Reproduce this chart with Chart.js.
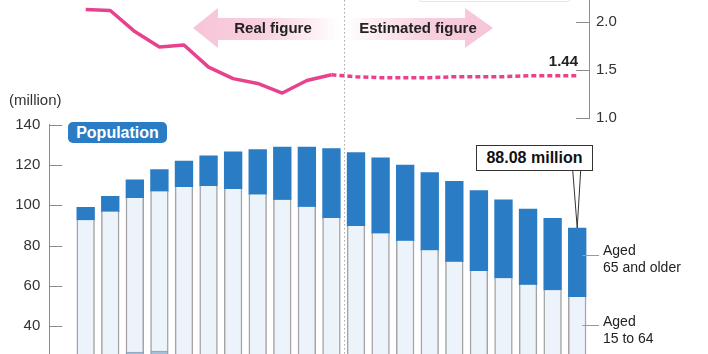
<!DOCTYPE html>
<html>
<head>
<meta charset="utf-8">
<script src="https://cdn.jsdelivr.net/npm/chart.js@4.4.1/dist/chart.umd.min.js"></script>
<style>
  body {
    margin: 0;
    width: 708px;
    height: 354px;
    overflow: hidden;
    position: relative;
    background: #fff;
    font-family: "Liberation Sans", Arial, sans-serif;
    color: #222;
  }
  canvas { position: absolute; left: 0; }
  #popChart { top: 0; }
  #rateChart { top: -30px; }
  .note { position: absolute; white-space: nowrap; }
  .arrow { position: absolute; top: 8px; height: 40px; }
  #realArrow {
    left: 193px; width: 147px;
    clip-path: polygon(0 20px, 25px 0, 25px 10px, 147px 10px, 147px 32px, 25px 32px, 25px 40px);
    background: linear-gradient(to right, #f6c4d8 0%, #f8cfdf 45%, rgba(255,255,255,0) 100%);
  }
  #estArrow {
    left: 345px; width: 148px;
    clip-path: polygon(0 10px, 120px 10px, 120px 0, 148px 20px, 120px 40px, 120px 32px, 0 32px);
    background: linear-gradient(to right, rgba(255,255,255,0) 0%, #f8cfdf 55%, #f6c4d8 100%);
  }
  .arrowText { font-weight: bold; font-size: 15px; line-height: 18px; top: 19px; color: #222; }
</style>
</head>
<body>
<canvas id="popChart" width="708" height="384"></canvas>
<canvas id="rateChart" width="708" height="170"></canvas>

<div class="note" style="left:417px; top:-25px; width:153px; height:25px; border:1px solid #e6e6e6; border-radius:5px;"></div>
<div class="arrow" id="realArrow"></div>
<div class="arrow" id="estArrow"></div>
<div class="note arrowText" style="left:233px; width:80px; text-align:center;">Real figure</div>
<div class="note arrowText" style="left:355px; width:126px; text-align:center;">Estimated figure</div>
<div class="note" style="left:530px; top:52px; width:48px; text-align:right; font-weight:bold; font-size:15px; line-height:18px;">1.44</div>
<div class="note" style="left:9px; top:91px; font-size:15px; line-height:18px; color:#333;">(million)</div>
<div class="note" style="left:68px; top:122px; width:99px; height:21px; background:#2a7dc4; border-radius:5px; color:#fff; font-weight:bold; font-size:16px; line-height:21px; text-align:center;">Population</div>
<div class="note" style="left:476px; top:145px; width:115px; height:24px; border:1px solid #333; background:#fff; font-weight:bold; font-size:16px; line-height:24px; text-align:center; color:#111;">88.08 million</div>
<div class="note" style="left:603px; top:242px; font-size:14px; line-height:16.5px;">Aged<br>65 and older</div>
<div class="note" style="left:603px; top:313px; font-size:14px; line-height:16.5px;">Aged<br>15 to 64</div>

<script>
// Japan population by age group (million), 1965-2015 real, 2020-2065 estimated
const years = [1965, 1970, 1975, 1980, 1985, 1990, 1995, 2000, 2005, 2010, 2015,
               2020, 2025, 2030, 2035, 2040, 2045, 2050, 2055, 2060, 2065];
const aged0to14 = [25.5, 24.8, 27.1, 27.6, 26.0, 22.5, 20.0, 18.5, 17.6, 16.8, 15.9,
                   15.1, 14.1, 13.2, 12.5, 11.9, 11.4, 10.8, 10.2, 9.5, 9.0];
const aged15to64 = [67.0, 72.0, 76.4, 79.2, 83.0, 87.0, 88.0, 86.8, 85.1, 82.4, 77.7,
                    74.6, 71.9, 69.2, 65.1, 60.1, 56.0, 53.0, 50.4, 48.3, 45.5];
const aged65plus = [6.4, 7.6, 9.1, 10.8, 12.8, 15.0, 18.5, 22.3, 26.1, 29.6, 34.4,
                    36.4, 37.5, 37.5, 38.5, 39.8, 39.8, 38.9, 37.5, 35.7, 34.2];

// Total fertility rate
const fertilityReal = [2.13, 2.12, 1.90, 1.74, 1.76, 1.53, 1.41, 1.36, 1.26, 1.39, 1.45];
const fertilityEstimated = [1.43, 1.42, 1.42, 1.42, 1.43, 1.43, 1.43, 1.44, 1.44, 1.44];

const populationTicks = [40, 60, 80, 100, 120, 140];
const rateTicks = [1.0, 1.5, 2.0];
const splitYear = 2017.5; // between last real and first estimated figure

const fontFamily = '"Liberation Sans", Arial, sans-serif';
const axisColor = '#8c8c8c';

function toPoints(values) {
    return values.map((v, i) => ({ x: years[i], y: v }));
}

// shared x layout so both charts line up
function yearAxis() {
    return { type: 'linear', min: 1957.6, max: 2067.4, offset: false, stacked: true, display: false };
}

function line(ctx, x1, y1, x2, y2) {
    ctx.beginPath();
    ctx.moveTo(x1, y1);
    ctx.lineTo(x2, y2);
    ctx.stroke();
}

// tick marks pointing into the plot, divider, callout and label connectors
const popMarks = {
    id: 'popMarks',
    afterDatasetsDraw(chart) {
        const { ctx, chartArea, scales: { x, y } } = chart;
        ctx.save();
        ctx.strokeStyle = axisColor;
        ctx.lineWidth = 1;
        populationTicks.forEach(v => {
            const py = Math.round(y.getPixelForValue(v)) + 0.5;
            line(ctx, chartArea.left, py, chartArea.left + 13, py);
        });

        const sx = Math.round(x.getPixelForValue(splitYear)) + 0.5;
        ctx.strokeStyle = '#a8a8a8';
        ctx.setLineDash([1.5, 2.5]);
        line(ctx, sx, 0, sx, chartArea.bottom);
        ctx.setLineDash([]);

        const last = years.length - 1;
        const lx = x.getPixelForValue(years[last]);
        const ly = y.getPixelForValue(aged0to14[last] + aged15to64[last] + aged65plus[last]);
        ctx.strokeStyle = '#333';
        line(ctx, lx - 4.5, 170, lx, ly);
        line(ctx, lx + 3.5, 170, lx, ly);

        ctx.strokeStyle = '#9a9a9a';
        line(ctx, lx + 5, 255.5, 599, 255.5);
        line(ctx, lx + 5, 325.5, 599, 325.5);
        ctx.restore();
    }
};

const rateMarks = {
    id: 'rateMarks',
    afterDatasetsDraw(chart) {
        const { ctx, chartArea, scales: { y } } = chart;
        ctx.save();
        ctx.strokeStyle = axisColor;
        ctx.lineWidth = 1;
        rateTicks.forEach(v => {
            const py = Math.round(y.getPixelForValue(v)) + 0.5;
            line(ctx, chartArea.right - 13, py, chartArea.right, py);
        });
        ctx.restore();
    }
};

const popChart = new Chart(document.getElementById('popChart'), {
    type: 'bar',
    data: {
        datasets: [
            {
                label: 'Aged 0 to 14',
                data: toPoints(aged0to14),
                backgroundColor: '#a6bfd7',
                borderColor: '#8fa2b4',
                borderWidth: { left: 1.5, right: 1.5, top: 1, bottom: 0 }
            },
            {
                label: 'Aged 15 to 64',
                data: toPoints(aged15to64),
                backgroundColor: '#ecf3fb',
                borderColor: '#a4a4a4',
                borderWidth: { left: 1.5, right: 1.5, top: 0, bottom: 0 }
            },
            {
                label: 'Aged 65 and older',
                data: toPoints(aged65plus),
                backgroundColor: '#2a7dc4',
                borderWidth: 0
            }
        ]
    },
    options: {
        responsive: false,
        animation: false,
        devicePixelRatio: 1,
        layout: { padding: { top: 124.5, bottom: 30, left: 0, right: 119 } },
        datasets: { bar: { barThickness: 17.7 } },
        plugins: { legend: { display: false }, tooltip: { enabled: false } },
        scales: {
            x: yearAxis(),
            y: {
                position: 'left',
                stacked: true,
                beginAtZero: false,
                min: 26.2,
                max: 140,
                afterFit: s => { s.width = 49.3; },
                afterBuildTicks: s => { s.ticks = populationTicks.map(v => ({ value: v })); },
                grid: { display: false, drawTicks: false },
                border: { display: true, color: axisColor, width: 1 },
                ticks: { padding: 9, color: '#333', font: { size: 15, family: fontFamily } }
            }
        }
    },
    plugins: [popMarks]
});

const rateChart = new Chart(document.getElementById('rateChart'), {
    type: 'line',
    data: {
        datasets: [{
            label: 'Total fertility rate',
            data: toPoints(fertilityReal.concat(fertilityEstimated)),
            borderColor: '#e8428f',
            borderWidth: 3.5,
            borderJoinStyle: 'round',
            pointRadius: 0,
            tension: 0,
            segment: {
                borderDash: ctx => ctx.p0DataIndex >= fertilityReal.length - 1 ? [5, 3] : undefined
            }
        }]
    },
    options: {
        responsive: false,
        animation: false,
        devicePixelRatio: 1,
        layout: { padding: { top: 30, bottom: 22, left: 49.3, right: 0 } },
        plugins: { legend: { display: false }, tooltip: { enabled: false } },
        scales: {
            x: yearAxis(),
            y: {
                position: 'right',
                min: 1.0,
                max: 2.229,
                afterFit: s => { s.width = 119; },
                afterBuildTicks: s => { s.ticks = rateTicks.map(v => ({ value: v })); },
                grid: { display: false, drawTicks: false },
                border: { display: true, color: axisColor, width: 1 },
                ticks: {
                    padding: 7,
                    color: '#333',
                    font: { size: 15, family: fontFamily },
                    callback: v => Number(v).toFixed(1)
                }
            }
        }
    },
    plugins: [rateMarks]
});
</script>
</body>
</html>
